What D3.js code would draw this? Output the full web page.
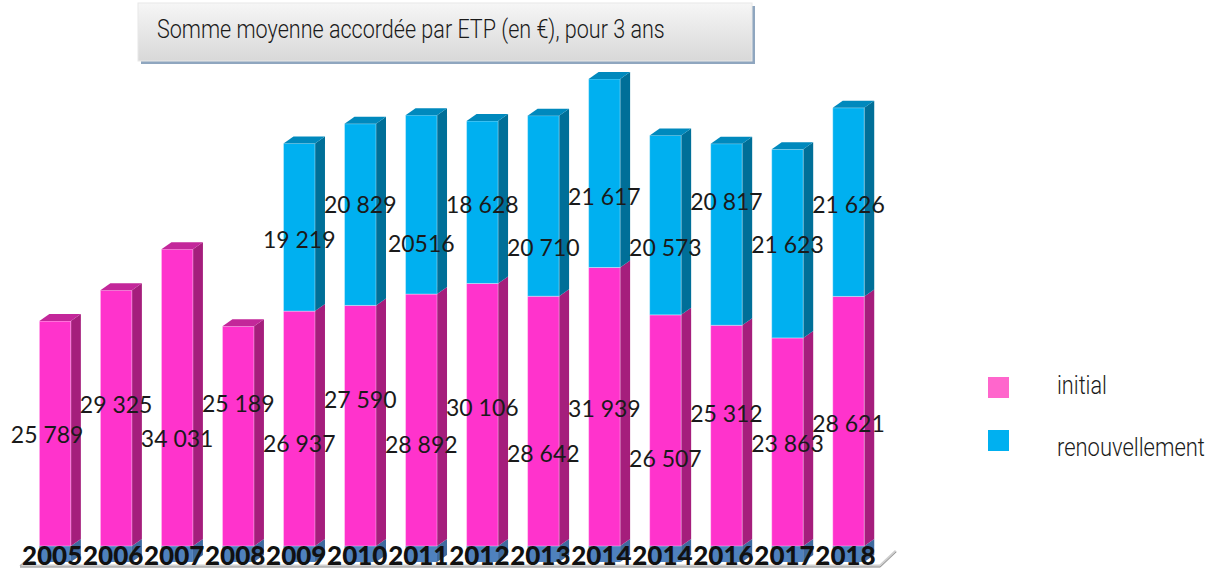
<!DOCTYPE html>
<html>
<head>
<meta charset="utf-8">
<script src="https://cdn.jsdelivr.net/npm/d3@7"></script>
<style>
  html, body { margin: 0; padding: 0; background: #ffffff; }
  svg { display: block; }
</style>
</head>
<body>
<svg id="chart" width="1221" height="570"></svg>
<script>
// ---------- DATA ----------
const years = ["2005","2006","2007","2008","2009","2010","2011","2012","2013","2014","2014","2016","2017","2018"];
const initialValues = [25789, 29325, 34031, 25189, 26937, 27590, 28892, 30106, 28642, 31939, 26507, 25312, 23863, 28621];
const renouvValues  = [null, null, null, null, 19219, 20829, 20516, 18628, 20710, 21617, 20573, 20817, 21623, 21626];
const initialLabels = ["25 789","29 325","34 031","25 189","26 937","27 590","28 892","30 106","28 642","31 939","26 507","25 312","23 863","28 621"];
const renouvLabels  = [null, null, null, null, "19 219","20 829","20516","18 628","20 710","21 617","20 573","20 817","21 623","21 626"];
const seriesNames = ["initial", "renouvellement"];
const titleText = "Somme moyenne accordée par ETP (en €), pour 3 ans";

// ---------- LAYOUT ----------
const W = 1221, H = 570;
const baseY = 546;
const depthX = 10, depthY = -7;
// label baselines (layout of data-label text, as placed in the original)
const initialLabelBaseline = [443, 413, 447, 412, 452, 408, 453, 416, 462, 417, 467, 422, 452, 432];
const renouvLabelBaseline  = [null, null, null, null, 248, 213, 252, 213, 256, 205, 256, 210, 253, 213];

const colors = {
  pinkFront: "#ff33cc", pinkSide: "#a51e7c", pinkTop: "#c3279a",
  blueFront: "#00b0f0", blueSide: "#006f98", blueTop: "#0089bd",
  base: "#4f81bd", baseSide: "#3f6a9e",
  legendPink: "#ff66cc", legendBlue: "#00b0f0"
};

const svg = d3.select("#chart");
svg.append("rect").attr("width", W).attr("height", H).attr("fill", "#fff");

const x = d3.scaleBand()
  .domain(d3.range(years.length))
  .range([24.6, 879])
  .paddingInner(0.484)
  .paddingOuter(0.242);
const y = d3.scaleLinear().domain([0, 60000]).range([baseY, 22.8]);
const bw = x.bandwidth();

// ---------- FLOOR ----------
const floor = svg.append("g");
floor.append("path")
  .attr("d", `M20,566 L880,566 L896,551`)
  .attr("fill", "none").attr("stroke", "#d0d0d0").attr("stroke-width", 3);
floor.append("path")
  .attr("d", `M20,567 L880,567 L896,552`)
  .attr("fill", "none").attr("stroke", "#9a9a9a").attr("stroke-width", 1);
floor.append("path")
  .attr("d", `M20,566 L35,552`)
  .attr("fill", "none").attr("stroke", "#b0b0b0").attr("stroke-width", 1.2);

// ---------- BARS ----------
const bars = svg.append("g");
function sidePoly(x0, yTop, yBot) {
  const xr = x0 + bw;
  return [[xr, yTop], [xr + depthX, yTop + depthY], [xr + depthX, yBot + depthY], [xr, yBot]];
}
function topPoly(x0, yTop) {
  return [[x0, yTop], [x0 + depthX, yTop + depthY], [x0 + bw + depthX, yTop + depthY], [x0 + bw, yTop]];
}
const line = d3.line();

years.forEach((yr, i) => {
  const g = bars.append("g");
  const x0 = x(i);
  g.append("rect").attr("x", x0).attr("y", baseY).attr("width", bw).attr("height", 16).attr("fill", colors.base);
  g.append("path").attr("d", line(sidePoly(x0, baseY, baseY + 16)) + "Z").attr("fill", colors.baseSide);

  const segs = [{ v0: 0, v1: initialValues[i], f: colors.pinkFront, s: colors.pinkSide, t: colors.pinkTop }];
  if (renouvValues[i] != null) {
    segs.push({ v0: initialValues[i], v1: initialValues[i] + renouvValues[i], f: colors.blueFront, s: colors.blueSide, t: colors.blueTop });
  }
  segs.forEach(sg => {
    const yT = y(sg.v1), yB = y(sg.v0);
    g.append("path").attr("d", line(sidePoly(x0, yT, yB)) + "Z").attr("fill", sg.s);
    g.append("rect").attr("x", x0).attr("y", yT).attr("width", bw).attr("height", yB - yT)
      .attr("fill", sg.f).attr("stroke", "rgba(255,255,255,0.35)").attr("stroke-width", 1);
  });
  const last = segs[segs.length - 1];
  g.append("path").attr("d", line(topPoly(x0, y(last.v1))) + "Z").attr("fill", last.t);
});

// ---------- DATA LABELS ----------
const labels = svg.append("g")
  .attr("font-family", "Lato, 'Open Sans', sans-serif")
  .attr("font-size", 23)
  .attr("fill", "#1a1a1a")
  .attr("text-anchor", "middle");
years.forEach((yr, i) => {
  const cx = x(i) + bw / 2 + (i === 0 ? -8 : 0);
  labels.append("text").attr("x", cx).attr("y", initialLabelBaseline[i]).text(initialLabels[i]);
  if (renouvLabels[i] != null) {
    labels.append("text").attr("x", x(i) + bw / 2).attr("y", renouvLabelBaseline[i]).text(renouvLabels[i]);
  }
});

// ---------- X AXIS ----------
const xAxis = d3.axisBottom(x).tickSize(0).tickPadding(0).tickFormat(i => years[i]);
const axG = svg.append("g").attr("transform", `translate(-3, 565)`).call(xAxis);
axG.select(".domain").remove();
axG.selectAll("text")
  .attr("y", 0).attr("dy", 0)
  .attr("font-family", "Lato, 'Liberation Sans', sans-serif")
  .attr("font-weight", 900)
  .attr("font-size", 26)
  .attr("fill", "#111");

// helper: condensed text via horizontal scaling to a target width
function condensedText(parent, tx, ty, str, size, targetW) {
  const g = parent.append("g").attr("transform", `translate(${tx},${ty})`);
  const t = g.append("text")
    .attr("x", 0).attr("y", 0)
    .attr("font-family", "Roboto, sans-serif").attr("font-weight", 300)
    .attr("font-size", size).attr("fill", "#1a1a1a")
    .text(str);
  const natural = t.node().getComputedTextLength();
  const s = natural > 0 ? targetW / natural : 1;
  t.attr("transform", `scale(${s},1)`);
  return t;
}

// ---------- TITLE BOX ----------
const defs = svg.append("defs");
const grad = defs.append("linearGradient").attr("id", "tg").attr("x1", 0).attr("y1", 0).attr("x2", 0).attr("y2", 1);
grad.append("stop").attr("offset", "0%").attr("stop-color", "#f6f6f6");
grad.append("stop").attr("offset", "100%").attr("stop-color", "#d8d8d8");
svg.append("rect").attr("x", 141).attr("y", 6).attr("width", 614).attr("height", 58).attr("fill", "#8fa6bf");
svg.append("rect").attr("x", 138).attr("y", 3).attr("width", 614).attr("height", 58).attr("fill", "url(#tg)")
  .attr("stroke", "#e8e8e8").attr("stroke-width", 1);
condensedText(svg, 157, 38, titleText, 26, 508);

// ---------- LEGEND ----------
const legend = svg.append("g");
const legColors = [colors.legendPink, colors.legendBlue];
const legY = [377, 430];
const legBase = [394, 456];
const legLen = [50, 148];
seriesNames.forEach((n, k) => {
  legend.append("rect").attr("x", 988).attr("y", legY[k]).attr("width", 21).attr("height", 21).attr("fill", legColors[k]);
  condensedText(legend, 1057, legBase[k], n, 25, legLen[k]);
});
</script>
</body>
</html>
